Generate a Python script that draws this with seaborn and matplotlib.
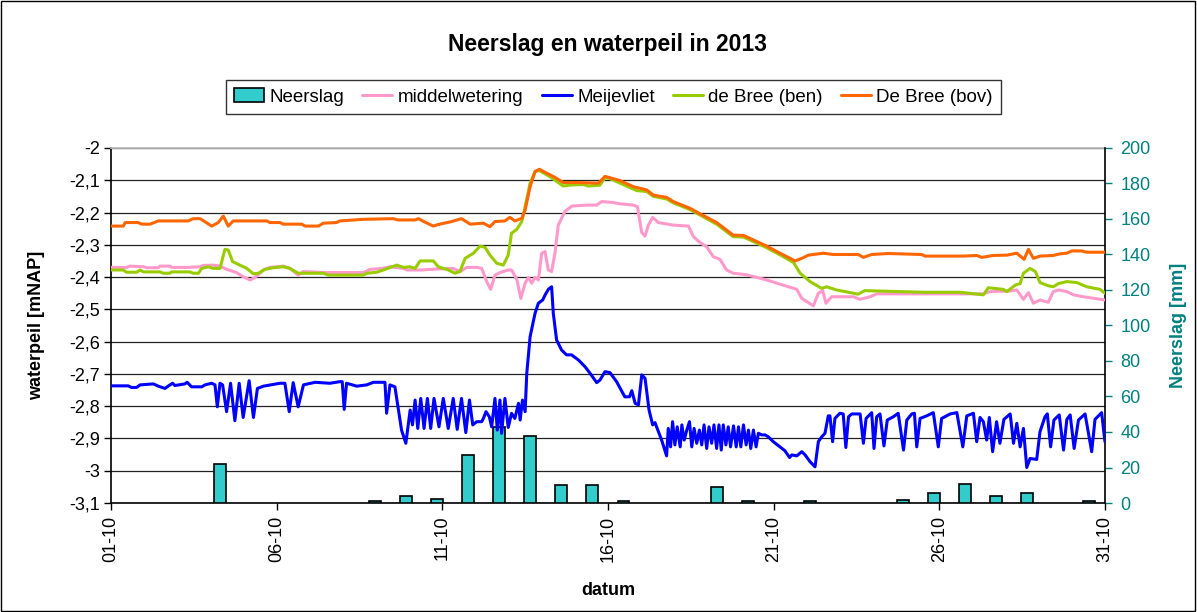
import numpy as np
import pandas as pd
import matplotlib
matplotlib.use("Agg")
import matplotlib.pyplot as plt
import matplotlib.dates as mdates
from matplotlib.patches import Patch, Rectangle
from matplotlib.lines import Line2D
from matplotlib.ticker import FuncFormatter
import seaborn as sns

START = pd.Timestamp("2013-10-01")
N_DAYS = 30

# daily rainfall [mm], one bar per category slot (32 slots over the month)
neerslag_mm = [0, 0, 0, 22, 0, 0, 0, 0, 1, 4, 2.3, 27, 43, 38, 10, 10,
               1, 0, 0, 9, 1, 0, 1, 0, 0, 1.7, 5.6, 10.5, 4, 5.6, 0, 1]

# water levels [mNAP] as (day since 01-10, level)
middelwetering = [
    (0.00, -2.370), (0.47, -2.370), (0.57, -2.366), (0.98, -2.368), (1.08, -2.371),
    (1.43, -2.371), (1.48, -2.366), (1.78, -2.366), (1.83, -2.370), (2.30, -2.370),
    (2.69, -2.368), (2.79, -2.364), (3.09, -2.363), (3.29, -2.366), (3.49, -2.376),
    (3.79, -2.386), (3.99, -2.399), (4.20, -2.409), (4.35, -2.401), (4.60, -2.378),
    (4.80, -2.370), (5.20, -2.366), (5.40, -2.373), (5.65, -2.394), (5.80, -2.383),
    (6.51, -2.386), (7.62, -2.386), (7.82, -2.376), (8.22, -2.373), (8.42, -2.368),
    (8.83, -2.373), (8.93, -2.378), (9.38, -2.378), (9.83, -2.375), (10.33, -2.373),
    (10.53, -2.383), (10.74, -2.370), (11.04, -2.370), (11.19, -2.373), (11.34, -2.414),
    (11.46, -2.438), (11.59, -2.394), (11.74, -2.386), (11.99, -2.378), (12.09, -2.378),
    (12.25, -2.407), (12.37, -2.466), (12.50, -2.419), (12.60, -2.401), (12.70, -2.419),
    (12.80, -2.401), (12.90, -2.409), (13.00, -2.326), (13.10, -2.321), (13.20, -2.378),
    (13.30, -2.383), (13.40, -2.326), (13.50, -2.239), (13.70, -2.197), (13.91, -2.180),
    (14.36, -2.177), (14.66, -2.177), (14.81, -2.166), (15.16, -2.169), (15.36, -2.173),
    (15.77, -2.177), (15.89, -2.182), (16.02, -2.262), (16.12, -2.273), (16.22, -2.239),
    (16.35, -2.215), (16.52, -2.231), (16.97, -2.239), (17.43, -2.242), (17.58, -2.275),
    (17.78, -2.293), (17.98, -2.306), (18.18, -2.337), (18.38, -2.345), (18.58, -2.378),
    (18.78, -2.388), (19.19, -2.393), (19.79, -2.409), (20.29, -2.425), (20.70, -2.438),
    (20.85, -2.466), (21.20, -2.489), (21.35, -2.450), (21.48, -2.442), (21.58, -2.481),
    (21.75, -2.461), (22.41, -2.461), (22.61, -2.469), (22.91, -2.461), (23.11, -2.452),
    (26.33, -2.452), (26.53, -2.445), (27.14, -2.443), (27.34, -2.440), (27.54, -2.469),
    (27.69, -2.448), (27.84, -2.481), (28.04, -2.471), (28.29, -2.478), (28.44, -2.445),
    (28.60, -2.440), (28.85, -2.445), (29.05, -2.455), (29.35, -2.461), (30.00, -2.471),
]

meijevliet = [
    (0.00, -2.737), (0.52, -2.737), (0.62, -2.742), (0.77, -2.742), (0.88, -2.734),
    (1.28, -2.731), (1.43, -2.738), (1.63, -2.745), (1.78, -2.734), (1.86, -2.729),
    (1.93, -2.736), (2.23, -2.731), (2.30, -2.726), (2.43, -2.740), (2.74, -2.740),
    (2.84, -2.734), (3.04, -2.729), (3.14, -2.734), (3.21, -2.802), (3.29, -2.729),
    (3.37, -2.734), (3.49, -2.817), (3.61, -2.729), (3.74, -2.845), (3.87, -2.729),
    (3.99, -2.835), (4.17, -2.721), (4.30, -2.835), (4.42, -2.745), (4.60, -2.738),
    (5.10, -2.729), (5.25, -2.729), (5.38, -2.817), (5.50, -2.727), (5.65, -2.802),
    (5.81, -2.734), (6.16, -2.726), (6.61, -2.729), (6.91, -2.724), (6.98, -2.724),
    (7.04, -2.810), (7.11, -2.729), (7.42, -2.738), (7.72, -2.734), (7.92, -2.726),
    (8.27, -2.726), (8.32, -2.822), (8.42, -2.734), (8.57, -2.740), (8.77, -2.874),
    (8.90, -2.915), (9.03, -2.812), (9.10, -2.858), (9.18, -2.781), (9.26, -2.869),
    (9.35, -2.776), (9.45, -2.869), (9.55, -2.776), (9.65, -2.869), (9.75, -2.776),
    (9.90, -2.864), (10.03, -2.776), (10.18, -2.869), (10.33, -2.776), (10.45, -2.872),
    (10.58, -2.776), (10.71, -2.882), (10.82, -2.781), (10.92, -2.858), (11.04, -2.848),
    (11.19, -2.848), (11.24, -2.838), (11.32, -2.817), (11.42, -2.833), (11.49, -2.864),
    (11.59, -2.776), (11.66, -2.874), (11.74, -2.781), (11.79, -2.884), (11.89, -2.776),
    (11.99, -2.866), (12.09, -2.822), (12.19, -2.838), (12.30, -2.791), (12.35, -2.843),
    (12.42, -2.781), (12.50, -2.817), (12.55, -2.698), (12.65, -2.585), (12.80, -2.512),
    (12.90, -2.481), (13.03, -2.471), (13.10, -2.456), (13.20, -2.438), (13.30, -2.430),
    (13.35, -2.512), (13.45, -2.595), (13.60, -2.626), (13.75, -2.641), (13.90, -2.641),
    (14.11, -2.657), (14.31, -2.678), (14.46, -2.698), (14.66, -2.727), (14.76, -2.719),
    (14.91, -2.693), (15.06, -2.696), (15.26, -2.724), (15.51, -2.771), (15.65, -2.771),
    (15.72, -2.752), (15.82, -2.791), (15.92, -2.796), (16.02, -2.703), (16.12, -2.714),
    (16.24, -2.812), (16.35, -2.858), (16.42, -2.851), (16.62, -2.905), (16.77, -2.954),
    (16.82, -2.869), (16.89, -2.926), (16.95, -2.848), (17.02, -2.920), (17.09, -2.864),
    (17.18, -2.926), (17.23, -2.858), (17.30, -2.905), (17.38, -2.874), (17.46, -2.848),
    (17.53, -2.926), (17.60, -2.869), (17.68, -2.915), (17.76, -2.874), (17.83, -2.920),
    (17.90, -2.858), (17.98, -2.931), (18.05, -2.864), (18.13, -2.915), (18.20, -2.858),
    (18.28, -2.931), (18.35, -2.858), (18.42, -2.936), (18.48, -2.858), (18.56, -2.920),
    (18.63, -2.864), (18.70, -2.926), (18.79, -2.861), (18.87, -2.926), (18.94, -2.864),
    (19.01, -2.926), (19.09, -2.858), (19.17, -2.920), (19.24, -2.874), (19.31, -2.931),
    (19.39, -2.874), (19.47, -2.926), (19.54, -2.884), (19.64, -2.889), (19.74, -2.889),
    (19.84, -2.895), (19.99, -2.910), (20.19, -2.926), (20.34, -2.938), (20.48, -2.959),
    (20.55, -2.951), (20.70, -2.954), (20.85, -2.941), (20.95, -2.951), (21.10, -2.972),
    (21.25, -2.988), (21.35, -2.910), (21.45, -2.895), (21.55, -2.884), (21.65, -2.830),
    (21.70, -2.830), (21.78, -2.910), (21.85, -2.838), (22.00, -2.822), (22.10, -2.824),
    (22.18, -2.928), (22.26, -2.833), (22.36, -2.824), (22.61, -2.824), (22.71, -2.915),
    (22.79, -2.838), (22.96, -2.820), (23.03, -2.931), (23.11, -2.833), (23.21, -2.824),
    (23.33, -2.923), (23.43, -2.843), (23.61, -2.833), (23.76, -2.822), (23.92, -2.936),
    (24.02, -2.843), (24.17, -2.824), (24.25, -2.822), (24.32, -2.926), (24.42, -2.838),
    (24.62, -2.830), (24.82, -2.820), (24.97, -2.926), (25.07, -2.838), (25.33, -2.824),
    (25.53, -2.820), (25.71, -2.926), (25.83, -2.830), (26.03, -2.822), (26.13, -2.910),
    (26.23, -2.835), (26.33, -2.848), (26.43, -2.905), (26.51, -2.835), (26.61, -2.941),
    (26.73, -2.848), (26.83, -2.915), (26.95, -2.841), (27.14, -2.824), (27.24, -2.915),
    (27.34, -2.853), (27.44, -2.926), (27.54, -2.869), (27.64, -2.990), (27.74, -2.962),
    (27.94, -2.965), (28.04, -2.879), (28.19, -2.833), (28.26, -2.824), (28.36, -2.926),
    (28.46, -2.843), (28.62, -2.827), (28.75, -2.936), (28.85, -2.841), (28.95, -2.827),
    (29.07, -2.931), (29.20, -2.843), (29.40, -2.824), (29.60, -2.941), (29.70, -2.841),
    (29.90, -2.820), (30.00, -2.910),
]

bree_ben = [
    (0.00, -2.378), (0.37, -2.378), (0.47, -2.385), (0.78, -2.385), (0.88, -2.378),
    (0.98, -2.384), (1.48, -2.384), (1.58, -2.388), (1.78, -2.388), (1.83, -2.384),
    (2.38, -2.384), (2.48, -2.388), (2.64, -2.388), (2.74, -2.373), (2.94, -2.368),
    (3.09, -2.373), (3.29, -2.373), (3.44, -2.314), (3.54, -2.316), (3.67, -2.352),
    (3.89, -2.363), (4.10, -2.373), (4.30, -2.390), (4.45, -2.388), (4.65, -2.376),
    (4.90, -2.371), (5.20, -2.368), (5.40, -2.373), (5.65, -2.388), (6.41, -2.388),
    (6.56, -2.394), (7.62, -2.394), (7.72, -2.388), (8.02, -2.385), (8.22, -2.378),
    (8.62, -2.363), (8.83, -2.370), (9.02, -2.368), (9.18, -2.373), (9.33, -2.350),
    (9.73, -2.350), (9.88, -2.368), (10.18, -2.378), (10.38, -2.388), (10.53, -2.383),
    (10.69, -2.342), (10.94, -2.326), (11.14, -2.304), (11.29, -2.308), (11.44, -2.332),
    (11.64, -2.357), (11.84, -2.363), (11.99, -2.332), (12.09, -2.264), (12.25, -2.252),
    (12.40, -2.228), (12.50, -2.182), (12.65, -2.109), (12.80, -2.073), (12.93, -2.070),
    (13.25, -2.089), (13.65, -2.118), (13.85, -2.115), (14.26, -2.113), (14.41, -2.118),
    (14.76, -2.115), (14.91, -2.092), (15.06, -2.095), (15.87, -2.132), (16.17, -2.135),
    (16.37, -2.150), (16.77, -2.158), (16.97, -2.170), (17.48, -2.191), (17.78, -2.208),
    (18.28, -2.236), (18.78, -2.275), (19.09, -2.276), (19.39, -2.290), (19.79, -2.309),
    (20.19, -2.331), (20.60, -2.355), (20.80, -2.388), (21.10, -2.414), (21.45, -2.435),
    (21.60, -2.430), (21.90, -2.440), (22.31, -2.448), (22.55, -2.453), (22.75, -2.442),
    (24.52, -2.447), (25.63, -2.447), (26.33, -2.455), (26.48, -2.433), (26.93, -2.438),
    (27.04, -2.445), (27.29, -2.425), (27.44, -2.420), (27.54, -2.388), (27.74, -2.373),
    (27.90, -2.383), (28.04, -2.417), (28.29, -2.427), (28.44, -2.430), (28.60, -2.420),
    (28.85, -2.414), (29.15, -2.417), (29.45, -2.430), (29.85, -2.438), (30.00, -2.450),
]

bree_bov = [
    (0.00, -2.242), (0.37, -2.242), (0.43, -2.231), (0.82, -2.231), (0.93, -2.236),
    (1.18, -2.236), (1.43, -2.226), (2.33, -2.226), (2.48, -2.219), (2.69, -2.219),
    (3.04, -2.242), (3.24, -2.231), (3.39, -2.211), (3.54, -2.242), (3.69, -2.226),
    (4.70, -2.226), (4.80, -2.231), (5.10, -2.231), (5.20, -2.236), (5.76, -2.236),
    (5.86, -2.242), (6.26, -2.242), (6.41, -2.233), (6.81, -2.231), (6.91, -2.226),
    (7.62, -2.221), (8.52, -2.219), (8.67, -2.223), (9.18, -2.223), (9.28, -2.219),
    (9.48, -2.230), (9.73, -2.242), (9.88, -2.237), (10.28, -2.228), (10.58, -2.219),
    (10.84, -2.236), (11.24, -2.233), (11.44, -2.244), (11.59, -2.228), (11.89, -2.226),
    (12.04, -2.215), (12.19, -2.226), (12.40, -2.218), (12.50, -2.192), (12.65, -2.120),
    (12.80, -2.073), (12.93, -2.066), (13.15, -2.078), (13.40, -2.091), (13.65, -2.107),
    (14.06, -2.107), (14.71, -2.109), (14.91, -2.088), (15.06, -2.092), (15.36, -2.101),
    (15.77, -2.120), (16.17, -2.130), (16.37, -2.146), (16.77, -2.153), (16.97, -2.166),
    (17.48, -2.187), (17.78, -2.204), (18.28, -2.231), (18.78, -2.270), (19.09, -2.271),
    (19.39, -2.285), (19.79, -2.304), (20.19, -2.326), (20.65, -2.350), (20.85, -2.342),
    (21.05, -2.332), (21.50, -2.326), (21.80, -2.330), (22.55, -2.330), (22.71, -2.339),
    (22.96, -2.330), (23.46, -2.327), (24.47, -2.330), (24.57, -2.335), (25.73, -2.335),
    (26.13, -2.333), (26.28, -2.339), (26.63, -2.333), (27.04, -2.332), (27.34, -2.326),
    (27.56, -2.345), (27.69, -2.314), (27.84, -2.342), (28.04, -2.335), (28.44, -2.333),
    (28.64, -2.328), (28.85, -2.326), (29.00, -2.319), (29.30, -2.319), (29.45, -2.323),
    (30.00, -2.323),
]

series = [
    ("middelwetering", middelwetering, "#FF99CC"),
    ("Meijevliet", meijevliet, "#0000FF"),
    ("de Bree (ben)", bree_ben, "#99CC00"),
    ("De Bree (bov)", bree_bov, "#FF6600"),
]

BAR_COLOR = "#33CCCC"
TEAL = "#008080"


def to_frame(points):
    days, levels = zip(*points)
    return pd.DataFrame({
        "datum": START + pd.to_timedelta(np.array(days), unit="D"),
        "waterpeil": levels,
    })


def comma_fmt(v, pos):
    s = f"{v:.1f}"
    if s.endswith(".0"):
        s = s[:-2]
    return s.replace(".", ",")


sns.set_theme(style="white")
plt.rcParams["font.family"] = ["Liberation Sans", "DejaVu Sans"]
plt.rcParams["text.color"] = "black"
plt.rcParams["axes.labelcolor"] = "black"

fig = plt.figure(figsize=(11.97, 6.12), dpi=100)
ax = fig.add_axes([0.0927, 0.1781, 0.8304, 0.5801])
ax_bar = ax.twinx()
ax_line = ax.twinx()

# bars: 32 category slots spread over the month
slot = N_DAYS / len(neerslag_mm)
bar_x = [START + pd.Timedelta(days=(i + 0.5) * slot) for i in range(len(neerslag_mm))]
bar_df = pd.DataFrame({"datum": bar_x, "mm": neerslag_mm})
bar_df = bar_df[bar_df["mm"] > 0]
ax_bar.bar(bar_df["datum"], bar_df["mm"], width=0.36, color=BAR_COLOR,
           edgecolor="black", linewidth=1.2)

for name, pts, color in series:
    sns.lineplot(data=to_frame(pts), x="datum", y="waterpeil", ax=ax_line,
                 color=color, linewidth=2.2, estimator=None, sort=False)

# left axis
ax.set_ylim(-3.1, -2.0)
ax.set_yticks(np.round(np.arange(-3.1, -1.95, 0.1), 1))
ax.yaxis.set_major_formatter(FuncFormatter(comma_fmt))
ax.yaxis.grid(True, color="#222222", linewidth=0.9)
ax.xaxis.grid(False)
ax.set_xlim(START, START + pd.Timedelta(days=N_DAYS))
ax_line.set_ylim(-3.1, -2.0)
ax_line.axis("off")

# right axis
ax_bar.set_ylim(0, 200)
ax_bar.set_yticks(np.arange(0, 201, 20))
ax_bar.tick_params(axis="y", colors=TEAL, labelsize=13, direction="out",
                   length=5, width=1, pad=6, right=True)
ax_bar.set_ylabel("Neerslag [mm]", fontsize=13, fontweight="bold", color=TEAL)
ax_bar.yaxis.set_label_coords(1.065, 0.5)
ax_bar.grid(False)

ax.xaxis.set_major_locator(mdates.DayLocator(bymonthday=[1, 6, 11, 16, 21, 26, 31]))
ax.xaxis.set_major_formatter(mdates.DateFormatter("%d-%m"))
ax.tick_params(axis="x", labelsize=13, rotation=90, direction="out",
               length=5, width=1, bottom=True, pad=4, colors="black")
ax.tick_params(axis="y", labelsize=13, direction="out", length=5, width=1,
               left=True, pad=3, colors="black")

for side in ["left", "bottom"]:
    ax.spines[side].set_color("black")
    ax.spines[side].set_linewidth(1.2)
ax.spines["top"].set_color("#BBBBBB")
ax.spines["right"].set_visible(False)
ax_bar.spines["right"].set_color("black")
ax_bar.spines["right"].set_linewidth(1.2)
for side in ["left", "top", "bottom"]:
    ax_bar.spines[side].set_visible(False)

ax.set_ylabel("waterpeil [mNAP]", fontsize=13, fontweight="bold", color="black")
ax.yaxis.set_label_coords(-0.066, 0.5)
ax.set_xlabel("datum", fontsize=13, fontweight="bold", color="black")
ax.xaxis.set_label_coords(0.5, -0.223)

fig.text(0.5075, 0.928, "Neerslag en waterpeil in 2013", ha="center", va="center",
         fontsize=16.5, fontweight="bold", color="black")

handles = [Patch(facecolor=BAR_COLOR, edgecolor="black", linewidth=1.2)]
labels = ["Neerslag"]
for name, pts, color in series:
    handles.append(Line2D([0], [0], color=color, linewidth=2.2))
    labels.append(name)
leg = fig.legend(handles, labels, loc="center", bbox_to_anchor=(0.5125, 0.8415),
                 ncol=5, frameon=True, fancybox=False, edgecolor="black",
                 fontsize=13.5, handlelength=1.6, handletextpad=0.3,
                 columnspacing=0.95, borderpad=0.45)
leg.get_frame().set_linewidth(1.0)
for t in leg.get_texts():
    t.set_color("black")

fig.patches.append(Rectangle((0.001, 0.002), 0.997, 0.996, transform=fig.transFigure,
                             fill=False, edgecolor="black", linewidth=1))

fig.savefig("out.png", dpi=100)
